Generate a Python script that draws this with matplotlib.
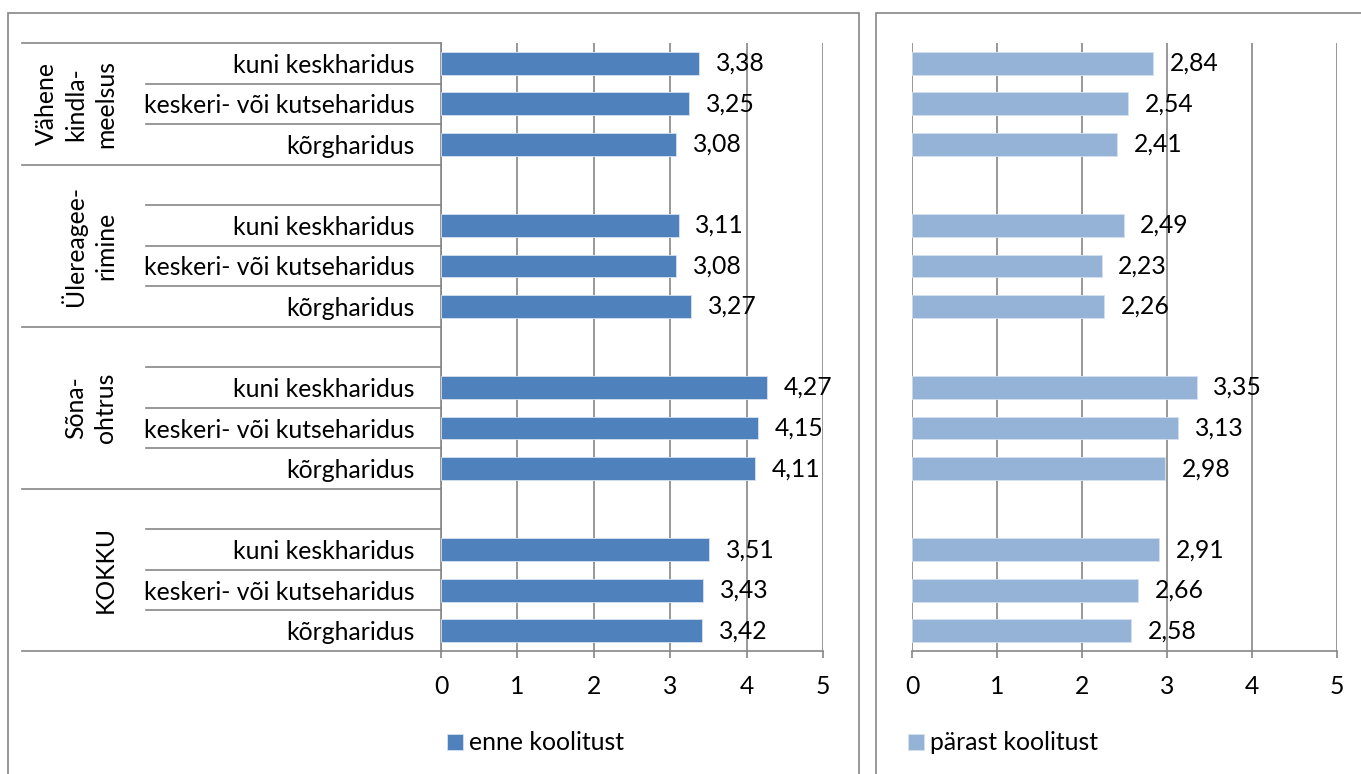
import matplotlib.pyplot as plt
from matplotlib.patches import Rectangle

plt.rcParams['font.family'] = ['Lato', 'DejaVu Sans']

groups = ["Vähene\nkindla-\nmeelsus", "Ülereagee-\nrimine", "Sõna-\nohtrus", "KOKKU"]
levels = ["kuni keskharidus", "keskeri- või kutseharidus", "kõrgharidus"]
enne = [3.38, 3.25, 3.08, 3.11, 3.08, 3.27, 4.27, 4.15, 4.11, 3.51, 3.43, 3.42]
parast = [2.84, 2.54, 2.41, 2.49, 2.23, 2.26, 3.35, 3.13, 2.98, 2.91, 2.66, 2.58]
series_names = ["enne koolitust", "pärast koolitust"]
colors = ["#4f81bd", "#95b3d7"]

W, H = 1361, 774
FS = 17.8
grey = "#868686"

# each group takes 4 slots: an empty one between groups, then the three levels
slots = [4 * g + i for g in range(len(groups)) for i in range(len(levels))]
labels = [levels[i] for g in range(len(groups)) for i in range(len(levels))]

fig = plt.figure(figsize=(W / 100, H / 100), dpi=100)

def px_axes(x0, x1, y0, y1):
    return fig.add_axes([x0 / W, 1 - y1 / H, (x1 - x0) / W, (y1 - y0) / H])

# outer chart frames
fig.patches.append(Rectangle((8 / W, -0.1), (859 - 8) / W, 1.1 - 13 / H,
                             transform=fig.transFigure, fill=False,
                             edgecolor=grey, lw=1.2))
fig.patches.append(Rectangle((876 / W, -0.1), 0.6, 1.1 - 13 / H,
                             transform=fig.transFigure, fill=False,
                             edgecolor=grey, lw=1.2))

ax1 = px_axes(441, 823, 43, 651)
ax2 = px_axes(912, 1337, 43, 651)

for ax, vals, col, name in [(ax1, enne, colors[0], series_names[0]),
                            (ax2, parast, colors[1], series_names[1])]:
    bars = ax.barh(slots, vals, height=0.56, color=col, edgecolor="#d5e1f0",
                   lw=0.6, zorder=3, label=name)
    for b, v in zip(bars, vals):
        ax.annotate(("%.2f" % v).replace(".", ","),
                    (v, b.get_y() + b.get_height() / 2),
                    xytext=(12, 0), textcoords="offset points",
                    ha="left", va="center", fontsize=FS, color="black")
    ax.set_xlim(0, 5)
    ax.set_ylim(14.5, -0.5)
    ax.set_xticks(range(6))
    ax.grid(axis="x", color=grey, lw=1.2, zorder=0)
    for s in ["top", "right", "left"]:
        ax.spines[s].set_visible(False)
    ax.spines["bottom"].set_color(grey)
    ax.spines["bottom"].set_linewidth(1.2)
    ax.tick_params(axis="x", direction="out", length=5, width=1.2,
                   color=grey, labelsize=FS, pad=12)
    ax.set_facecolor("none")

ax1.set_yticks(slots, labels)
ax1.tick_params(axis="y", length=0, labelsize=FS, pad=19)
ax1.spines["left"].set_visible(True)
ax1.spines["left"].set_color(grey)
ax1.spines["left"].set_linewidth(1.2)
ax2.set_yticks([])

# category axis separators on the left chart
tr = ax1.get_yaxis_transform()
x_grp = (22 - 441) / (823 - 441)
x_item = (146 - 441) / (823 - 441)
x_txt = (117 - 441) / (823 - 441)
bounds = [-0.5, 2.5, 6.5, 10.5, 14.5]
for y in bounds:
    ax1.plot([x_grp, 0], [y, y], color=grey, lw=1.2, transform=tr, clip_on=False)
for g in range(len(groups)):
    first = 4 * g
    inner = [first + 0.5, first + 1.5]
    if g > 0:
        inner = [first - 0.5] + inner
    for y in inner:
        ax1.plot([x_item, 0], [y, y], color=grey, lw=1.2, transform=tr,
                 clip_on=False)
    ax1.text(x_txt, (bounds[g] + bounds[g + 1]) / 2, groups[g], transform=tr,
             rotation=90, ha="right", va="center", multialignment="center",
             fontsize=FS, linespacing=1.35)

# legends below each chart
for ax, x0 in [(ax1, 447), (ax2, 908)]:
    ax.legend(loc="center left", bbox_to_anchor=(x0 / W, 1 - 743 / H),
              bbox_transform=fig.transFigure, frameon=False, fontsize=FS,
              handlelength=0.65, handleheight=0.65, handletextpad=0.25,
              borderpad=0, borderaxespad=0)

fig.savefig("out.png", dpi=100)
